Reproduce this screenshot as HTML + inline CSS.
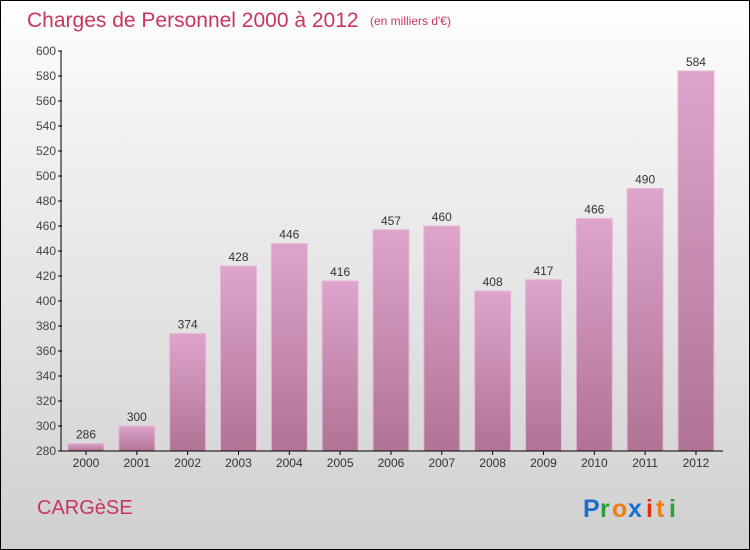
<!DOCTYPE html>
<html><head><meta charset="utf-8"><style>
body{margin:0}
#c{position:relative;width:748px;height:548px;border:1px solid #000;background:linear-gradient(#fff,#f3f3f3 20%,#d9d9d9 80%,#cfcfcf);font-family:"Liberation Sans",sans-serif;overflow:hidden}
</style></head><body>
<div id="c">
<svg width="748" height="548">
<defs><linearGradient id="g" x1="0" y1="0" x2="0" y2="1"><stop offset="0" stop-color="#dea4cc"/><stop offset="1" stop-color="#b07394"/></linearGradient></defs>
<text x="26" y="26" font-size="21" fill="#c8365e">Charges de Personnel 2000 à 2012</text>
<text x="369" y="24" font-size="12" fill="#c8365e">(en milliers d'€)</text>
<text x="36" y="513" font-size="20" fill="#c8365e">CARGèSE</text>
<g font-size="25" font-weight="bold">
<text x="582" y="516" fill="#1a6fd0">P</text><text x="599" y="516" fill="#2aa03a">r</text><text x="611" y="516" fill="#f07d10">o</text><text x="627" y="516" fill="#1a6fd0">x</text><text x="645" y="516" fill="#e03010">i</text><text x="655" y="516" fill="#f07d10">t</text><text x="668" y="516" fill="#2aa03a">i</text></g>
<g id="plot"></g>
</svg></div>
<script>
const categories=["2000","2001","2002","2003","2004","2005","2006","2007","2008","2009","2010","2011","2012"];
const values=[286,300,374,428,446,416,457,460,408,417,466,490,584];
const yTicks=[280,300,320,340,360,380,400,420,440,460,480,500,520,540,560,580,600];
const NS="http://www.w3.org/2000/svg";
const g=document.getElementById('plot');
const y=v=>450-(v-280)*1.25;
const x=i=>85+i*50.83;
function mk(t,a){const e=document.createElementNS(NS,t);for(const k in a)e.setAttribute(k,a[k]);g.appendChild(e);return e;}
yTicks.forEach(v=>{
const t=mk('line',{x1:57,x2:61,y1:y(v),y2:y(v),stroke:'#000'});


const l=mk('text',{x:55,y:y(v)+4,'font-size':12,fill:'#444','text-anchor':'end'});l.textContent=v;


});
values.forEach((v,i)=>{
const b=mk('rect',{x:x(i)-18,y:y(v),width:36,height:450-y(v),fill:'url(#g)',stroke:'#e8b8d8','stroke-width':1});


const t=mk('text',{x:x(i),y:y(v)-5,'font-size':12,fill:'#333','text-anchor':'middle'});t.textContent=v;


const c=mk('text',{x:x(i),y:466,'font-size':12,fill:'#333','text-anchor':'middle'});c.textContent=categories[i];


const tk=mk('line',{x1:x(i),x2:x(i),y1:450,y2:454,stroke:'#000'});


});
const ya=mk('line',{x1:60,x2:60,y1:50,y2:450,stroke:'#000'});


const xa=mk('line',{x1:60,x2:722,y1:450,y2:450,stroke:'#000'});


</script>
</body></html>
